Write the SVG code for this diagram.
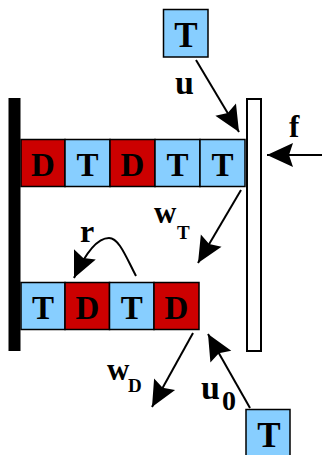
<svg xmlns="http://www.w3.org/2000/svg" width="322" height="455" viewBox="0 0 322 455">
<style>
.t{fill:#87CEFF;stroke:#000;stroke-width:1.5}
.d{fill:#CC0000;stroke:#000;stroke-width:1.5}
text{font-family:"Liberation Serif","Times New Roman",serif;font-weight:bold;fill:#000}
.bl{font-size:33px;text-anchor:middle}
.big{font-size:35px;text-anchor:middle}
.lab{font-size:34px}
.w{font-size:31px}
.sub{font-size:19px}
.ln{fill:none;stroke:#000;stroke-width:2;marker-end:url(#ah)}
</style>
<defs>
<marker id="ah" markerUnits="userSpaceOnUse" markerWidth="30" markerHeight="30" viewBox="-27 -13 30 26" refX="0" refY="0" orient="auto">
<path d="M0,0 L-26,-12 L-22,0 L-26,12 Z" fill="#000"/>
</marker>
</defs>
<g id="wall"><rect x="8.5" y="98" width="12" height="253" fill="#000"/></g>
<g id="plate"><rect x="247" y="99" width="14" height="252" fill="#fff" stroke="#000" stroke-width="2"/></g>
<g id="topT"><rect class="t" x="163.5" y="9.5" width="44.5" height="47.5"/><text class="big" x="186" y="46.5">T</text></g>
<g id="row1">
<rect class="d" x="21" y="139.5" width="44" height="47"/><text class="bl" x="43" y="175.5">D</text>
<rect class="t" x="65" y="139.5" width="45" height="47"/><text class="bl" x="87.5" y="175.5">T</text>
<rect class="d" x="110" y="139.5" width="45" height="47"/><text class="bl" x="132.5" y="175.5">D</text>
<rect class="t" x="155" y="139.5" width="45" height="47"/><text class="bl" x="177.5" y="175.5">T</text>
<rect class="t" x="200" y="139.5" width="45" height="47"/><text class="bl" x="222.5" y="175.5">T</text>
</g>
<g id="row2">
<rect class="t" x="21" y="282.5" width="44" height="47"/><text class="bl" x="43" y="318.5">T</text>
<rect class="d" x="65" y="282.5" width="44.5" height="47"/><text class="bl" x="87.3" y="318.5">D</text>
<rect class="t" x="109.5" y="282.5" width="44.5" height="47"/><text class="bl" x="131.7" y="318.5">T</text>
<rect class="d" x="154" y="282.5" width="45" height="47"/><text class="bl" x="176.5" y="318.5">D</text>
</g>
<g id="botT"><rect class="t" x="246" y="409.5" width="44" height="47"/><text class="big" x="269" y="447">T</text></g>
<g id="connectors">
<line class="ln" x1="196" y1="60" x2="239" y2="132"/>
<line class="ln" x1="322" y1="155" x2="267" y2="155"/>
<line class="ln" x1="241" y1="190" x2="198" y2="263"/>
<path class="ln" d="M136,276 C126,257 119,238 109,238 C98,238 86,252 74,278"/>
<line class="ln" x1="193" y1="333" x2="152" y2="407"/>
<line class="ln" x1="250" y1="408" x2="208" y2="334"/>
</g>
<g id="labels">
<text class="lab" x="175" y="94">u</text>
<text class="lab" x="289" y="137" style="font-size:31px">f</text>
<text class="w" x="154" y="223">w</text><text class="sub" x="177" y="239">T</text>
<text class="lab" x="80" y="242" style="font-size:32px">r</text>
<text class="w" x="107" y="380">w</text><text class="sub" x="128" y="392">D</text>
<text class="lab" x="201" y="399">u</text><text class="lab" x="222" y="410" style="font-size:28px">0</text>
</g>
</svg>
